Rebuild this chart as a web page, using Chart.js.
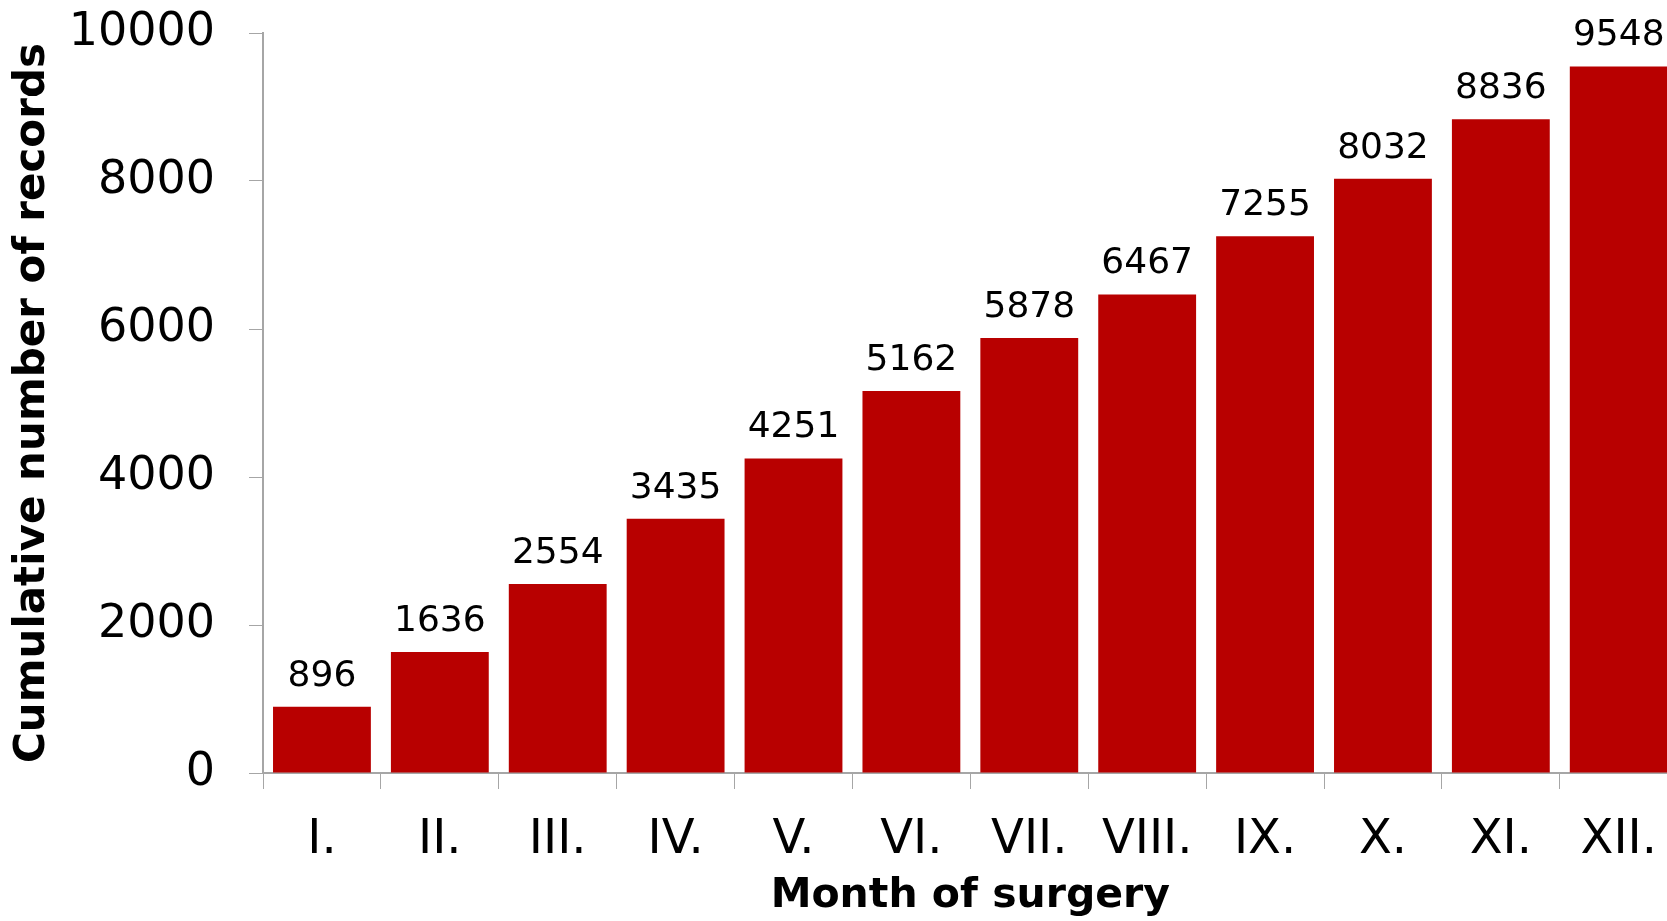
<!DOCTYPE html>
<html>
<head>
<meta charset="utf-8">
<script src="https://cdn.jsdelivr.net/npm/chart.js@4"></script>
<style>
  html, body { margin: 0; padding: 0; background: #fff; overflow: hidden; }
  #wrap { width: 1680px; height: 921px; }
</style>
</head>
<body>
<div id="wrap"><canvas id="chart" width="1680" height="921"></canvas></div>
<script>
// months (roman numerals) and cumulative record counts
const months = ['I.', 'II.', 'III.', 'IV.', 'V.', 'VI.', 'VII.', 'VIII.', 'IX.', 'X.', 'XI.', 'XII.'];
const records = [896, 1636, 2554, 3435, 4251, 5162, 5878, 6467, 7255, 8032, 8836, 9548];
const yTicks = [0, 2000, 4000, 6000, 8000, 10000];

const FONT = "Verdana, 'DejaVu Sans', sans-serif";
const AXIS = '#a6a6a6';

// simple value labels above each bar
const barLabels = {
  id: 'barLabels',
  afterDatasetsDraw(chart) {
    const ctx = chart.ctx;
    const meta = chart.getDatasetMeta(0);
    ctx.save();
    ctx.font = '36px ' + FONT;
    ctx.fillStyle = '#000';
    ctx.textAlign = 'center';
    ctx.textBaseline = 'alphabetic';
    meta.data.forEach((bar, i) => {
      ctx.fillText(String(records[i]), bar.x, bar.y - 21);
    });
    ctx.restore();
  }
};

new Chart(document.getElementById('chart'), {
  type: 'bar',
  data: {
    labels: months,
    datasets: [{
      label: 'Cumulative number of records',
      data: records,
      backgroundColor: '#b80000',
      borderWidth: 0,
      barPercentage: 0.83,
      categoryPercentage: 1
    }]
  },
  options: {
    responsive: false,
    devicePixelRatio: 1,
    animation: false,
    layout: { padding: { top: 33, left: 5, right: 1, bottom: 0 } },
    plugins: {
      legend: { display: false },
      tooltip: { enabled: false }
    },
    scales: {
      x: {
        afterFit(axis) { axis.height = 148; },
        grid: { display: true, drawOnChartArea: false, drawTicks: true, tickLength: 16, color: AXIS, offset: true },
        border: { display: true, color: AXIS, width: 2 },
        ticks: { color: '#000', font: { family: FONT, size: 48 }, padding: 23, maxRotation: 0, autoSkip: false },
        title: { display: true, text: 'Month of surgery', color: '#000', font: { family: FONT, size: 41, weight: 'bold' }, padding: { top: 0, bottom: 0 } }
      },
      y: {
        min: 0,
        max: 10000,
        afterBuildTicks(axis) { axis.ticks = yTicks.map(v => ({ value: v })); },
        afterFit(axis) { axis.width = 258; axis.paddingTop = 0; },
        grid: { display: true, drawOnChartArea: false, drawTicks: true, tickLength: 14, color: AXIS },
        border: { display: true, color: AXIS, width: 2 },
        ticks: { color: '#000', font: { family: FONT, size: 46 }, padding: 34, callback: v => String(v) },
        title: { display: true, text: 'Cumulative number of records', color: '#000', font: { family: FONT, size: 42, weight: 'bold' }, padding: { top: 3, bottom: 3 } }
      }
    }
  },
  plugins: [barLabels]
});
</script>
</body>
</html>
